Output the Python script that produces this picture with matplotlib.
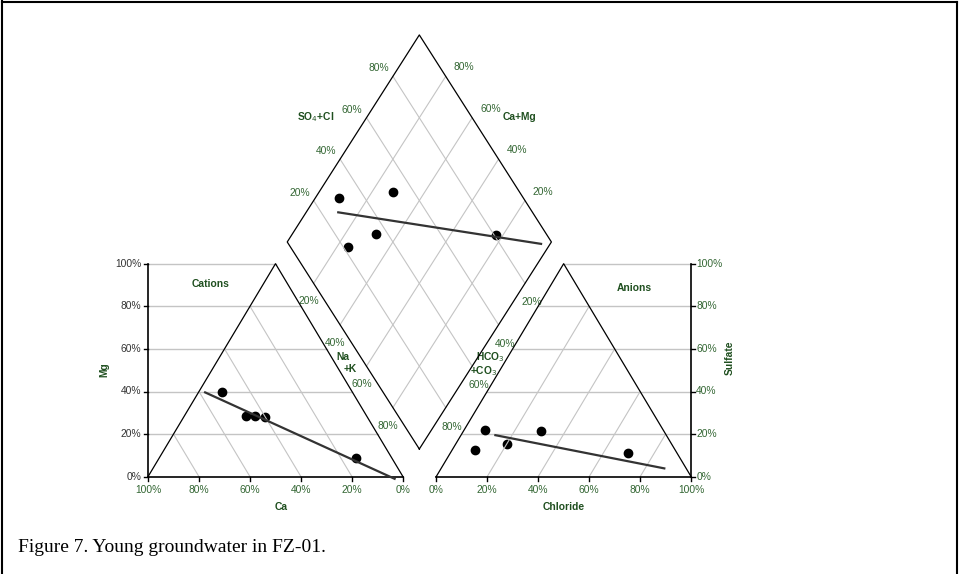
import numpy as np
import matplotlib.pyplot as plt
from matplotlib.lines import Line2D

plt.rcParams['font.family'] = ['Liberation Sans', 'DejaVu Sans']

# major ions, % of meq/l, one entry per sample
ca   = [51.3, 43.7, 40.2, 47.3, 14.3]
mg   = [39.6, 28.5, 28.0, 28.5,  8.6]
na_k = [ 9.1, 27.8, 31.8, 24.2, 77.1]
cl   = [ 8.4, 30.3, 20.3,  9.1, 69.7]
so4  = [21.8, 21.6, 15.3, 12.5, 11.0]
hco3 = [69.8, 48.1, 64.4, 78.4, 19.3]

# trend lines (end points)
cat_line_ca = [58.1, 3.5]
cat_line_mg = [39.8, -1.2]
an_line_cl = [13.0, 88.0]
an_line_so4 = [19.6, 3.8]
dia_line_camg = [88.3, 3.0]
dia_line_so4cl = [26.1, 96.0]

pct = [0, 20, 40, 60, 80, 100]
pct_labels = ['%d%%' % p for p in pct]

GREEN = '#336633'
DKGREEN = '#1f4f1f'
GRID = '#c4c4c4'
FS = 7.4

# layout: cation triangle on [0,100], anion triangle on [X_AN, X_AN+100]
X_AN = 113.0
B = np.array([106.4, 13.0])
L = np.array([54.6, 110.2])
R = np.array([158.2, 110.2])


def cation_xy(c, m):
    c, m = np.asarray(c, float), np.asarray(m, float)
    n = 100 - c - m
    return n + m / 2, m


def anion_xy(c, s):
    c, s = np.asarray(c, float), np.asarray(s, float)
    return X_AN + c + s / 2, s


def diamond_xy(camg, so4cl):
    a = np.asarray(camg, float)[:, None] / 100
    b = np.asarray(so4cl, float)[:, None] / 100
    p = B + a * (L - B) + b * (R - B)
    return p[:, 0], p[:, 1]


fig = plt.figure(figsize=(9.59, 5.74), dpi=100)
ax = fig.add_axes([0, 0, 1, 1])
ax.set_xlim(-148 / 2.55, (959 - 148) / 2.55)
ax.set_ylim(-(574 - 476.7) / 2.13, 476.7 / 2.13)
ax.axis('off')

# horizontal gridlines (Mg / sulfate)
for p in pct[1:]:
    ax.plot([0, 100 - p / 2], [p, p], color=GRID, lw=1, zorder=1)
    ax.plot([X_AN + p / 2, X_AN + 100], [p, p], color=GRID, lw=1, zorder=1)

# ternary gridlines: constant Ca, constant Cl and the diamond grid
for p in pct[1:-1]:
    x, y = cation_xy([p, p], [0, 100 - p])
    ax.plot(x, y, color=GRID, lw=0.8, zorder=4)
    x, y = anion_xy([p, p], [0, 100 - p])
    ax.plot(x, y, color=GRID, lw=0.8, zorder=4)
    x, y = diamond_xy([p, p], [0, 100])
    ax.plot(x, y, color=GRID, lw=0.8, zorder=4)
    x, y = diamond_xy([0, 100], [p, p])
    ax.plot(x, y, color=GRID, lw=0.8, zorder=4)

# outlines
x, y = cation_xy([100, 0, 0], [0, 100, 0])
ax.plot(x, y, color='black', lw=0.9, zorder=5)
x, y = anion_xy([0, 0, 100], [0, 100, 0])
ax.plot(x, y, color='black', lw=0.9, zorder=5)
x, y = diamond_xy([0, 100, 100, 0, 0], [0, 0, 100, 100, 0])
ax.plot(x, y, color='black', lw=0.9, zorder=5)

# axes lines and ticks
ax.plot([0, 0], [0, 100], color='black', lw=1.2, zorder=5)
ax.plot([0, 100], [0, 0], color='black', lw=1.2, zorder=5)
ax.plot([X_AN + 100, X_AN + 100], [0, 100], color='black', lw=1.2, zorder=5)
ax.plot([X_AN, X_AN + 100], [0, 0], color='black', lw=1.2, zorder=5)
for i, (p, lab) in enumerate(zip(pct, pct_labels)):
    ax.plot([-1.6, 0], [p, p], color='black', lw=1, zorder=5)
    ax.text(-2.6, p, lab, ha='right', va='center', fontsize=FS, color='#333333')
    ax.plot([X_AN + 100, X_AN + 101.6], [p, p], color='black', lw=1, zorder=5)
    ax.text(X_AN + 102.0, p, lab, ha='left', va='center', fontsize=FS, color=GREEN)
    ax.plot([p, p], [0, -2], color='black', lw=1, zorder=5)
    ax.text(p, -6.2, pct_labels[-1 - i], ha='center', va='center',
            fontsize=FS, color=GREEN)
    ax.plot([X_AN + p, X_AN + p], [0, -2], color='black', lw=1, zorder=5)
    ax.text(X_AN + p, -6.2, lab, ha='center', va='center', fontsize=FS, color=GREEN)

# diamond edge labels (offsets in pixels -> points)
pt = 72 / 100
edge = dict(textcoords='offset points', va='center', fontsize=FS, color=GREEN)
for p, lab in zip(pct[1:-1], pct_labels[1:-1]):
    f = p / 100
    # SO4+Cl, upper-left edge
    ax.annotate(lab, L + f * (R - B), xytext=(-4 * pt, 8 * pt), ha='right', **edge)
    # Ca+Mg, upper-right edge
    ax.annotate(lab, R + f * (L - B), xytext=(8 * pt, 9 * pt), ha='left', **edge)
    # Na+K, lower-left edge
    ax.annotate(lab, L + f * (B - L), xytext=(-5 * pt, -18 * pt), ha='center', **edge)
    # HCO3+CO3, lower-right edge
    ax.annotate(lab, R + f * (B - R), xytext=(6.5 * pt, -19 * pt), ha='center', **edge)

# titles
bold = dict(fontsize=FS, fontweight='bold', color=DKGREEN, ha='center', va='center')
ax.text(24.7, 90.4, 'Cations', **bold)
ax.text(190.6, 88.6, 'Anions', **bold)
ax.text(-17.3, 50.1, 'Mg', rotation=90, **bold)
ax.text(228.2, 55.7, 'Sulfate', rotation=90, **bold)
ax.text(52.4, -14.1, 'Ca', **bold)
ax.text(163.1, -14.1, 'Chloride', **bold)
ax.text(65.9, 168.7, 'SO$_4$+Cl', **bold)
ax.text(145.6, 168.7, 'Ca+Mg', **bold)
ax.text(76.5, 56.2, 'Na', **bold)
ax.text(79.2, 50.6, '+K', **bold)
ax.text(134.1, 56.3, 'HCO$_3$', **bold)
ax.text(131.5, 49.8, '+CO$_3$', **bold)

# trend lines
line = dict(color='#333333', lw=1.6, zorder=6, solid_capstyle='butt')
ax.plot(*cation_xy(cat_line_ca, cat_line_mg), **line)
ax.plot(*anion_xy(an_line_cl, an_line_so4), **line)
ax.plot(*diamond_xy(dia_line_camg, dia_line_so4cl), **line)

# samples
camg = np.add(ca, mg)
so4cl = np.add(cl, so4)
mk = dict(marker='o', ls='none', ms=6, color='black', zorder=3)
ax.plot(*cation_xy(ca, mg), **mk)
ax.plot(*anion_xy(cl, so4), **mk)
ax.plot(*diamond_xy(camg, so4cl), **mk)

# caption and frame
fig.text(18 / 959, 1 - 547 / 574, 'Figure 7. Young groundwater in FZ-01.',
         family=['Liberation Serif', 'DejaVu Serif'], fontsize=14, va='center', ha='left')
for xs, ys in [([2, 2], [0, 574]), ([2, 957], [2, 2]), ([957, 957], [2, 574])]:
    fig.add_artist(Line2D(np.array(xs) / 959, 1 - np.array(ys) / 574,
                          color='black', lw=1.5))

fig.savefig('out.png', dpi=100)
